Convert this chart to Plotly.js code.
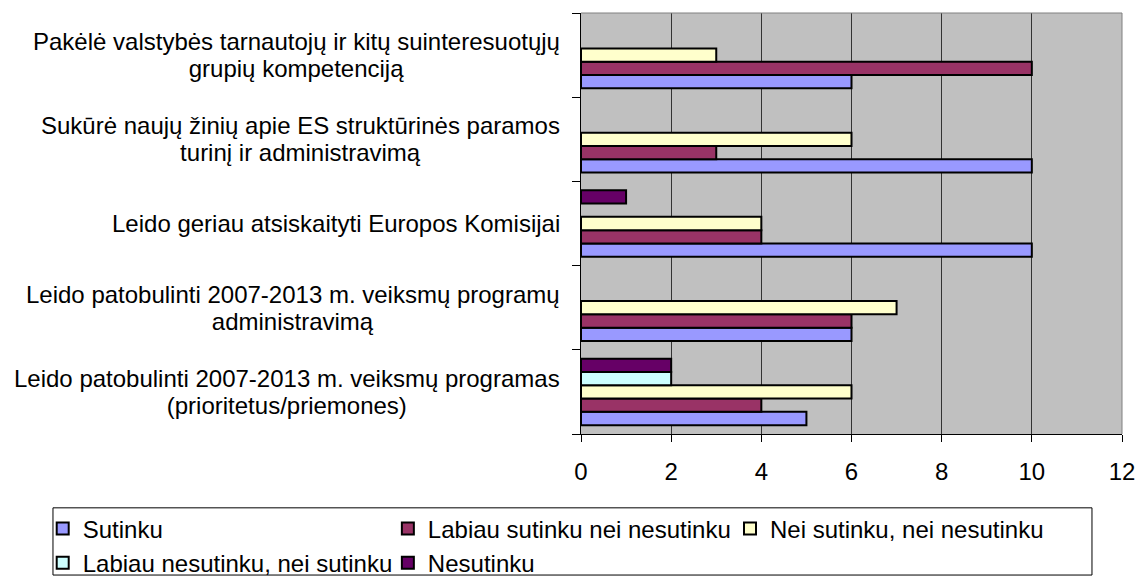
<!DOCTYPE html>
<html>
<head>
<meta charset="utf-8">
<script src="https://cdn.plot.ly/plotly-3.0.1.min.js"></script>
<style>
  html, body { margin: 0; padding: 0; background: #ffffff; }
  #chart { width: 1138px; height: 576px; }
</style>
</head>
<body>
<div id="chart"></div>
<script>
// Categories listed bottom -> top
const categories = [
  "Leido patobulinti 2007-2013 m. veiksmų programas<br>(prioritetus/priemones)",
  "Leido patobulinti 2007-2013 m. veiksmų programų<br>administravimą",
  "Leido geriau atsiskaityti Europos Komisijai",
  "Sukūrė naujų žinių apie ES struktūrinės paramos<br>turinį ir administravimą",
  "Pakėlė valstybės tarnautojų ir kitų suinteresuotųjų<br>grupių kompetenciją"
];
const seriesNames = [
  "Sutinku",
  "Labiau sutinku nei nesutinku",
  "Nei sutinku, nei nesutinku",
  "Labiau nesutinku, nei sutinku",
  "Nesutinku"
];
const sutinku          = [5, 6, 10, 10, 6];
const labiauSutinku    = [4, 6, 4, 3, 10];
const neiSutinku       = [6, 7, 4, 6, 3];
const labiauNesutinku  = [2, null, null, null, null];
const nesutinku        = [2, null, 1, null, null];
const xTickValues = [0, 2, 4, 6, 8, 10, 12];

const seriesValues = [sutinku, labiauSutinku, neiSutinku, labiauNesutinku, nesutinku];
const colors = ["#9999FF", "#993366", "#FFFFCC", "#CCFFFF", "#660066"];
const legendIds = ["legend", "legend2", "legend3", "legend", "legend2"];

const FONT = "Liberation Sans, Arial, sans-serif";
const FS = 24;
const LINE_H = 27;

const traces = seriesValues.map((vals, i) => ({
  type: "bar",
  orientation: "h",
  name: seriesNames[i],
  y: categories,
  x: vals,
  legend: legendIds[i],
  marker: { color: colors[i], line: { color: "#000000", width: 2 } },
  hoverinfo: "x+name"
}));

// measure text widths so multi-line labels are centred as a block
const ctx = document.createElement("canvas").getContext("2d");
ctx.font = FS + "px 'Liberation Sans', Arial, sans-serif";
const annotations = [];
categories.forEach(c => {
  const lines = c.split("<br>");
  const w = Math.max(...lines.map(l => ctx.measureText(l).width)) + 4;
  const n = lines.length;
  lines.forEach((line, i) => {
    annotations.push({
      xref: "paper", yref: "y",
      x: -0.031, y: c,
      text: line,
      showarrow: false,
      xanchor: "right", yanchor: "middle",
      align: "center",
      width: w,
      yshift: ((n - 1) / 2 - i) * LINE_H,
      font: { family: FONT, size: FS, color: "#000000" }
    });
  });
});

const legendCommon = {
  orientation: "v",
  bgcolor: "rgba(0,0,0,0)",
  borderwidth: 0,
  font: { family: FONT, size: FS, color: "#000000" },
  yanchor: "top",
  xanchor: "left",
  traceorder: "normal",
  tracegroupgap: 0
};

const layout = {
  width: 1138,
  height: 576,
  margin: { l: 581, r: 16, t: 13, b: 142, pad: 0, autoexpand: false },
  paper_bgcolor: "#ffffff",
  plot_bgcolor: "#C0C0C0",
  barmode: "group",
  bargap: 0.21,
  bargroupgap: 0,
  showlegend: true,
  font: { family: FONT, size: FS, color: "#000000" },
  xaxis: {
    range: [0, 12],
    tickvals: xTickValues,
    ticktext: xTickValues.map(String),
    showgrid: true,
    gridcolor: "#333333",
    gridwidth: 1,
    zeroline: false,
    showline: true,
    linecolor: "#000000",
    linewidth: 1,
    ticks: "outside",
    ticklen: 7,
    tickcolor: "#000000",
    ticklabelstandoff: 9,
    tickfont: { family: FONT, size: FS, color: "#000000" },
    fixedrange: true
  },
  yaxis: {
    type: "category",
    categoryorder: "array",
    categoryarray: categories,
    showticklabels: false,
    showgrid: false,
    zeroline: false,
    showline: true,
    linecolor: "#000000",
    linewidth: 1,
    ticks: "outside",
    tickson: "boundaries",
    ticklen: 8,
    tickcolor: "#000000",
    fixedrange: true
  },
  legend: Object.assign({}, legendCommon, { x: -0.995, y: -0.172 }),
  legend2: Object.assign({}, legendCommon, { x: -0.357, y: -0.172 }),
  legend3: Object.assign({}, legendCommon, { x: 0.2754, y: -0.172 }),
  annotations: annotations,
  shapes: [
    { type: "line", xref: "paper", yref: "paper", x0: 0, x1: 1, y0: 1, y1: 1,
      line: { color: "#808080", width: 1 } },
    { type: "line", xref: "paper", yref: "paper", x0: 1, x1: 1, y0: 0, y1: 1,
      line: { color: "#808080", width: 1 } },
    { type: "rect", xref: "paper", yref: "paper",
      x0: -0.976, x1: 0.9445, y0: -0.1754, y1: -0.335,
      line: { color: "#000000", width: 1 }, fillcolor: "rgba(0,0,0,0)" }
  ]
};

Plotly.newPlot("chart", traces, layout, { displayModeBar: false, staticPlot: true });
</script>
</body>
</html>
